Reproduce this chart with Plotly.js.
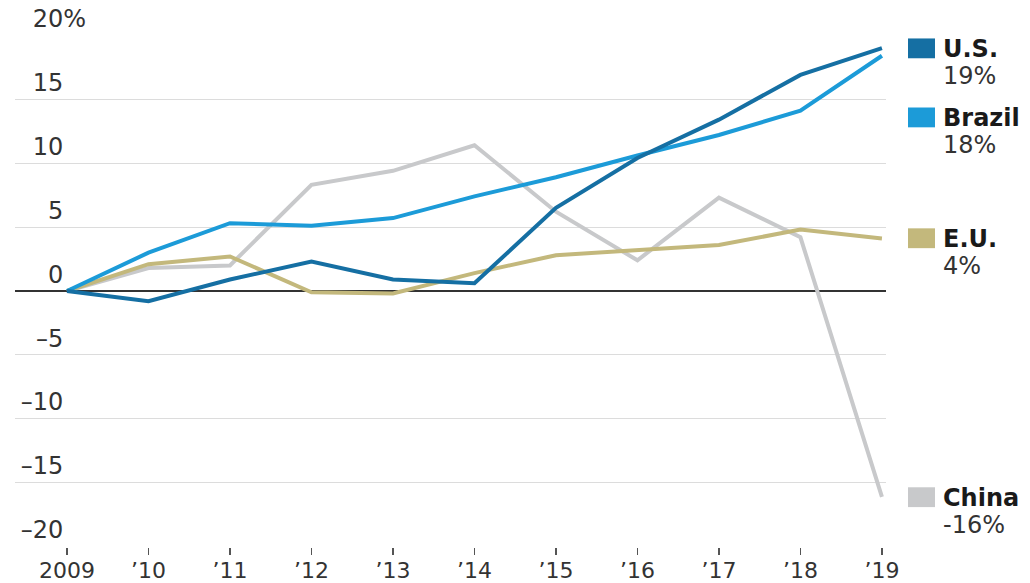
<!DOCTYPE html>
<html>
<head>
<meta charset="utf-8">
<script src="https://cdn.plot.ly/plotly-3.0.1.min.js"></script>
<style>html,body{margin:0;padding:0;background:#fff;}#chart{width:1030px;height:583px;}</style>
</head>
<body>
<div id="chart"></div>
<script>
// ---- data ----
const years = [2009, 2010, 2011, 2012, 2013, 2014, 2015, 2016, 2017, 2018, 2019];
const xTickText = ["2009", "’10", "’11", "’12", "’13", "’14", "’15", "’16", "’17", "’18", "’19"];
const usValues     = [0, -0.8, 0.9, 2.3, 0.9, 0.6, 6.5, 10.4, 13.4, 16.9, 19.0];
const brazilValues = [0, 3.0, 5.3, 5.1, 5.7, 7.4, 8.9, 10.6, 12.2, 14.1, 18.4];
const euValues     = [0, 2.1, 2.7, -0.1, -0.2, 1.4, 2.8, 3.2, 3.6, 4.8, 4.1];
const chinaValues  = [0, 1.8, 2.0, 8.3, 9.4, 11.4, 6.2, 2.4, 7.3, 4.2, -16.1];
const yTickVals = [-20, -15, -10, -5, 0, 5, 10, 15, 20];
const yTickNums = ["–20", "–15", "–10", "–5", "0", "5", "10", "15", "20"];
const seriesNames = ["U.S.", "Brazil", "E.U.", "China"];
const seriesLabels = ["19%", "18%", "4%", "-16%"];

// ---- styles / layout ----
const colors = ["#156fa3", "#1c9bd8", "#c3b87c", "#c8c9cb"];
const labelTop = [19.75, 14.35, 4.9, -15.35]; // y (data units) of top of each end label block
const FONT = "DejaVu Sans, sans-serif";

const seriesData = [usValues, brazilValues, euValues, chinaValues];
const drawOrder = [3, 2, 1, 0];
const traces = drawOrder.map(i => ({
  type: "scatter", mode: "lines", x: years, y: seriesData[i], name: seriesNames[i],
  line: {color: colors[i], width: 4}, hoverinfo: "skip"
}));

const yTickText = yTickNums.map((t, i) => yTickVals[i] === 20 ? t + "%" :
  t + "<span style='color:rgba(0,0,0,0)'>%</span>");

const shapes = [];
const annotations = [];
const xr = [2008.362, 2019.05];
const plotL = 15, plotR = 886;
const px2paper = p => (p - plotL) / (plotR - plotL);
seriesNames.forEach((n, i) => {
  const top = labelTop[i];
  shapes.push({type: "rect", xref: "paper", yref: "y",
    x0: px2paper(908), x1: px2paper(935), y0: top - 1.55, y1: top,
    fillcolor: colors[i], line: {width: 0}});
  annotations.push({xref: "paper", yref: "y", x: px2paper(941), y: top - 0.85,
    xanchor: "left", yanchor: "middle", showarrow: false,
    text: "<b>" + n + "</b>", font: {family: FONT, size: 24, color: "#1a1a1a"}});
  annotations.push({xref: "paper", yref: "y", x: px2paper(941), y: top - 0.85 - 2.1,
    xanchor: "left", yanchor: "middle", showarrow: false,
    text: seriesLabels[i], font: {family: FONT, size: 24, color: "#333"}});
});

const layout = {
  width: 1030, height: 583,
  margin: {l: plotL, r: 1030 - plotR, t: 35, b: 36, pad: 0},
  paper_bgcolor: "#fff", plot_bgcolor: "#fff",
  showlegend: false,
  font: {family: FONT, size: 24, color: "#333"},
  xaxis: {
    range: xr, tickvals: years, ticktext: xTickText,
    showgrid: false, zeroline: false, showline: false,
    ticks: "outside", ticklen: 7, tickwidth: 1.5, tickcolor: "#555",
    ticklabelstandoff: -3,
    tickfont: {family: FONT, size: 22, color: "#333"}
  },
  yaxis: {
    range: [-20.02, 20.02], tickvals: yTickVals, ticktext: yTickText,
    anchor: "free", position: 0.0815, side: "left",
    ticklabelposition: "outside top",
    showgrid: true, gridcolor: "#dcdcdc", gridwidth: 1,
    zeroline: true, zerolinecolor: "#333", zerolinewidth: 1.5,
    showline: false, ticks: "",
    tickfont: {family: FONT, size: 24, color: "#333"}
  },
  shapes: shapes,
  annotations: annotations
};

Plotly.newPlot("chart", traces, layout, {displayModeBar: false, staticPlot: true});
</script>
</body>
</html>
